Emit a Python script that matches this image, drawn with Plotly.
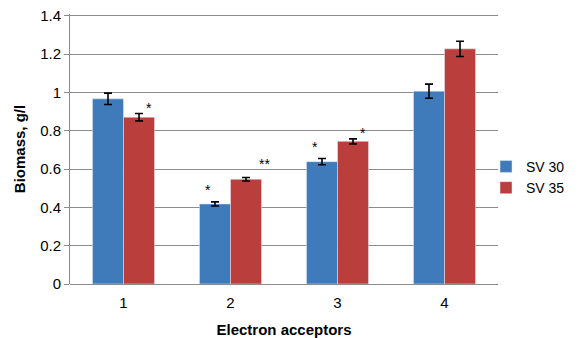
import plotly.graph_objects as go

categories = ["1", "2", "3", "4"]
sv30 = [0.967, 0.418, 0.639, 1.007]
sv30_err = [0.030, 0.011, 0.016, 0.037]
sv35 = [0.871, 0.547, 0.745, 1.228]
sv35_err = [0.019, 0.009, 0.013, 0.040]
y_ticks = [0, 0.2, 0.4, 0.6, 0.8, 1.0, 1.2, 1.4]
y_tick_labels = ["0", "0.2", "0.4", "0.6", "0.8", "1", "1.2", "1.4"]
# significance marks: (category index, series, label)
marks = [(0, "SV 35", "*"), (1, "SV 30", "*"), (1, "SV 35", "**"),
         (2, "SV 30", "*"), (2, "SV 35", "*")]

BLUE = "#3F7BBA"
RED = "#BA3E3B"
FONT = "Liberation Sans, Arial, sans-serif"

fig = go.Figure()
fig.add_trace(go.Bar(
    x=categories, y=sv30, name="SV 30", marker_color=BLUE,
    error_y=dict(type="data", array=sv30_err, color="black", thickness=1.6, width=4),
))
fig.add_trace(go.Bar(
    x=categories, y=sv35, name="SV 35", marker_color=RED,
    error_y=dict(type="data", array=sv35_err, color="black", thickness=1.6, width=4),
))

series_vals = {"SV 30": (sv30, sv30_err), "SV 35": (sv35, sv35_err)}
shift_style = {("SV 30", "*"): (-23, 2), ("SV 35", "*"): (25, -4), ("SV 35", "**"): (34, 4)}
for ci, s, lab in marks:
    vals, errs = series_vals[s]
    xs, ys = shift_style[(s, lab)]
    fig.add_annotation(
        x=ci, y=vals[ci] + errs[ci], text=lab, showarrow=False,
        xshift=xs, yshift=ys, yanchor="bottom",
        font=dict(family=FONT, size=14, color="black"),
    )

# page body has an 8px margin, so the figure is drawn 8px smaller
fig.update_layout(
    width=570, height=330,
    margin=dict(l=62, r=80, t=6, b=54, autoexpand=False),
    paper_bgcolor="white", plot_bgcolor="white",
    barmode="group", bargap=0.42, bargroupgap=0,
    font=dict(family=FONT, size=15, color="black"),
    legend=dict(x=0.972, y=0.395, xanchor="left", yanchor="middle",
                font=dict(size=14), itemwidth=30, tracegroupgap=2,
                bgcolor="rgba(0,0,0,0)"),
    showlegend=True,
)
fig.update_xaxes(
    type="category",
    showgrid=False, showline=False, ticks="",
    ticklabelstandoff=8,
    title=dict(text="<b>Electron acceptors</b>", font=dict(size=15), standoff=14),
    tickfont=dict(size=15),
)
fig.update_yaxes(
    range=[0, 1.41], tickvals=y_ticks, ticktext=y_tick_labels,
    ticklabeloverflow="allow",
    showgrid=True, gridcolor="#8C8C8C", gridwidth=1,
    showline=True, linecolor="#8C8C8C", linewidth=1,
    ticks="outside", ticklen=5, tickcolor="#8C8C8C",
    zeroline=True, zerolinecolor="#8C8C8C", zerolinewidth=1,
    title=dict(text="<b>Biomass, g/l</b>", font=dict(size=15), standoff=10),
    tickfont=dict(size=15),
)

fig.write_html("out.html")
